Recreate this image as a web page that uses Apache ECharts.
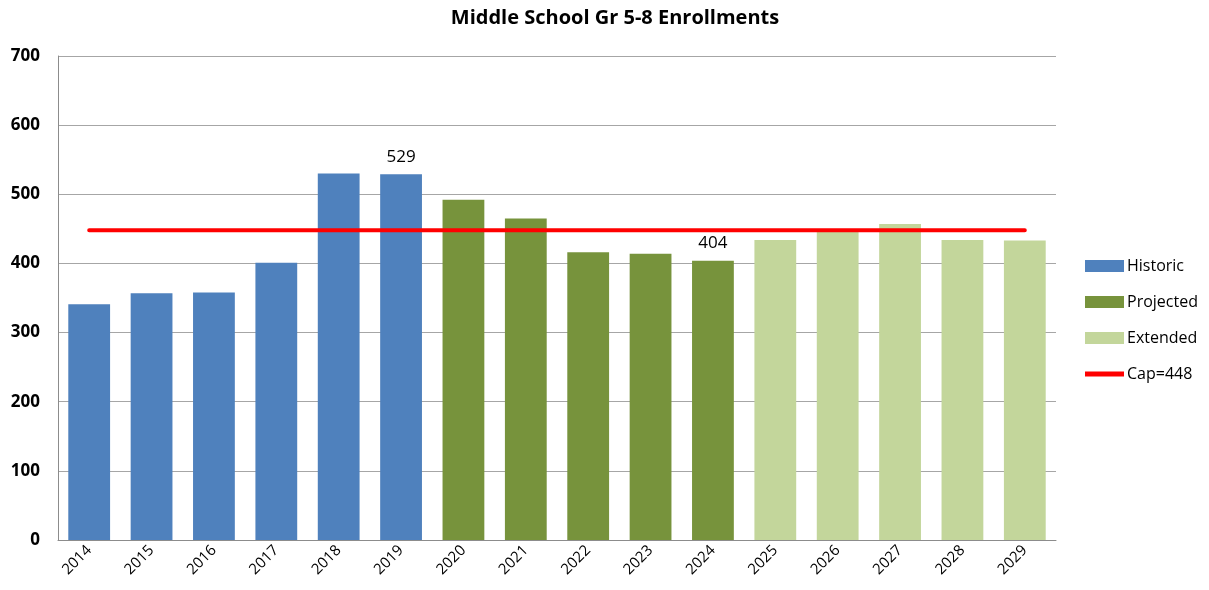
<!DOCTYPE html>
<html>
<head>
<meta charset="utf-8">
<script src="https://cdn.jsdelivr.net/npm/echarts@6/dist/echarts.min.js"></script>
<style>
  html, body { margin: 0; padding: 0; background: #fff; }
  #main { width: 1209px; height: 590px; }
</style>
</head>
<body>
<div id="main"></div>
<script>
const years = ['2014','2015','2016','2017','2018','2019','2020','2021','2022','2023','2024','2025','2026','2027','2028','2029'];
const historic  = [341, 357, 358, 401, 530, 529, '-', '-', '-', '-', '-', '-', '-', '-', '-', '-'];
const projected = ['-', '-', '-', '-', '-', '-', 492, 465, 416, 414, 404, '-', '-', '-', '-', '-'];
const extended  = ['-', '-', '-', '-', '-', '-', '-', '-', '-', '-', '-', 434, 446, 457, 434, 433];
const capValue = 448;
const labelledYears = ['2019', '2024'];
const yTicks = [0, 100, 200, 300, 400, 500, 600, 700];

const font = '"Open Sans", "Noto Sans", sans-serif';
const capLine = years.map(() => capValue);

function barLabel() {
  return {
    show: true,
    position: 'top',
    distance: 9,
    color: '#000',
    fontFamily: font,
    fontSize: 17,
    formatter: function (p) {
      return labelledYears.indexOf(p.name) >= 0 ? String(p.value) : '';
    }
  };
}

const chart = echarts.init(document.getElementById('main'));
chart.setOption({
  animation: false,
  backgroundColor: '#fff',
  title: {
    text: 'Middle School Gr 5-8 Enrollments',
    left: 610,
    textAlign: 'center',
    top: 3,
    textStyle: { fontFamily: font, fontSize: 20, fontWeight: 'bold', color: '#000' }
  },
  legend: {
    orient: 'vertical',
    left: 1085,
    top: 258,
    padding: 0,
    itemWidth: 39,
    itemHeight: 12,
    itemGap: 20,
    textStyle: { fontFamily: font, fontSize: 16, color: '#000', lineHeight: 16, padding: [0, 0, 0, -2] },
    data: [
      { name: 'Historic', icon: 'rect' },
      { name: 'Projected', icon: 'rect' },
      { name: 'Extended', icon: 'rect' },
      { name: 'Cap=448', icon: 'path://M0,0H40V5H0Z' }
    ]
  },
  grid: { left: 58, right: 153, top: 56, bottom: 50 },
  xAxis: {
    type: 'category',
    data: years,
    axisTick: { show: false },
    axisLine: { lineStyle: { color: '#8c8c8c', width: 1 } },
    axisLabel: {
      rotate: 45,
      margin: 8,
      interval: 0,
      color: '#000',
      fontFamily: font,
      fontSize: 15
    }
  },
  yAxis: {
    type: 'value',
    min: 0,
    max: yTicks[yTicks.length - 1],
    interval: 100,
    axisLine: { show: true, lineStyle: { color: '#8c8c8c', width: 1 } },
    axisTick: { show: false },
    splitLine: { lineStyle: { color: '#a6a6a6', width: 1 } },
    axisLabel: {
      margin: 18,
      color: '#000',
      fontFamily: font,
      fontSize: 17,
      fontWeight: 'bold'
    }
  },
  series: [
    {
      name: 'Historic', type: 'bar', stack: 'enr', data: historic,
      barWidth: '67%', itemStyle: { color: '#4f81bd' }, label: barLabel()
    },
    {
      name: 'Projected', type: 'bar', stack: 'enr', data: projected,
      barWidth: '67%', itemStyle: { color: '#77933c' }, label: barLabel()
    },
    {
      name: 'Extended', type: 'bar', stack: 'enr', data: extended,
      barWidth: '67%', itemStyle: { color: '#c3d69b' }, label: barLabel()
    },
    {
      name: 'Cap=448', type: 'line', data: capLine,
      symbol: 'none', z: 5,
      lineStyle: { color: '#ff0000', width: 4, cap: 'round' },
      itemStyle: { color: '#ff0000' }
    }
  ]
});
</script>
</body>
</html>
